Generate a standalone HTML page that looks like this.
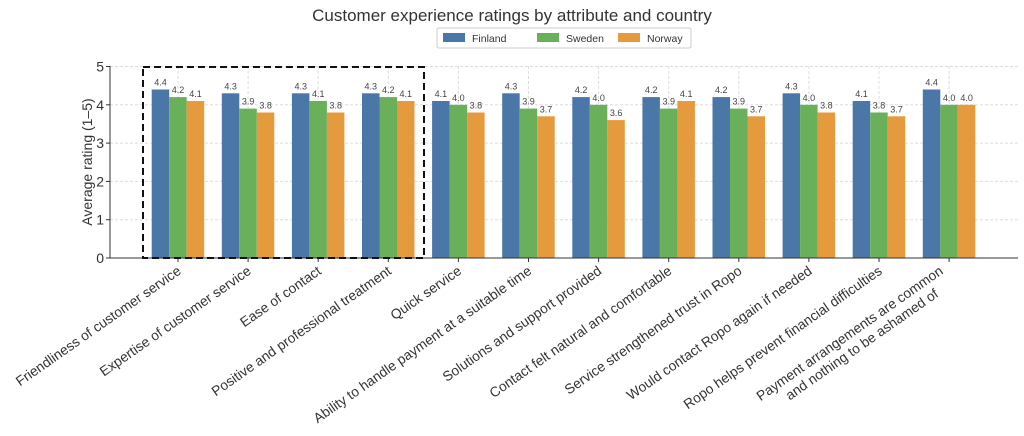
<!DOCTYPE html>
<html><head><meta charset="utf-8"><style>body{margin:0;background:#fff}svg{display:block;font-family:"Liberation Sans","DejaVu Sans",sans-serif}</style></head><body>
<svg width="1024" height="436" viewBox="0 0 1024 436" xmlns="http://www.w3.org/2000/svg">
<text x="512" y="21" text-anchor="middle" font-size="17" fill="#333">Customer experience ratings by attribute and country</text>
<rect x="437" y="28" width="254" height="20" fill="#fff" stroke="#ccc" rx="2"/>
<rect x="443" y="33" width="22" height="9" fill="#4a76a8"/><text x="472" y="42" font-size="10.5" fill="#333">Finland</text>
<rect x="537" y="33" width="22" height="9" fill="#6aaf5a"/><text x="566" y="42" font-size="10.5" fill="#333">Sweden</text>
<rect x="618" y="33" width="22" height="9" fill="#e59a3d"/><text x="647" y="42" font-size="10.5" fill="#333">Norway</text>
<g stroke="#ddd" stroke-dasharray="3,2">
<line x1="110" x2="1018" y1="66.5" y2="66.5"/><line x1="110" x2="1018" y1="104.8" y2="104.8"/><line x1="110" x2="1018" y1="143.1" y2="143.1"/><line x1="110" x2="1018" y1="181.4" y2="181.4"/><line x1="110" x2="1018" y1="219.7" y2="219.7"/>
<line x1="178" x2="178" y1="66" y2="258"/><line x1="248.1" x2="248.1" y1="66" y2="258"/><line x1="318.2" x2="318.2" y1="66" y2="258"/><line x1="388.3" x2="388.3" y1="66" y2="258"/><line x1="458.4" x2="458.4" y1="66" y2="258"/><line x1="528.5" x2="528.5" y1="66" y2="258"/><line x1="598.6" x2="598.6" y1="66" y2="258"/><line x1="668.7" x2="668.7" y1="66" y2="258"/><line x1="738.8" x2="738.8" y1="66" y2="258"/><line x1="808.9" x2="808.9" y1="66" y2="258"/><line x1="879" x2="879" y1="66" y2="258"/><line x1="949.1" x2="949.1" y1="66" y2="258"/>
</g>
<g font-size="14" fill="#333" text-anchor="end">
<text x="104" y="263">0</text><text x="104" y="224.7">1</text><text x="104" y="186.4">2</text><text x="104" y="148.1">3</text><text x="104" y="109.8">4</text><text x="104" y="71.5">5</text>
</g>
<g stroke="#333"><line x1="106" x2="110" y1="258" y2="258"/><line x1="106" x2="110" y1="219.7" y2="219.7"/><line x1="106" x2="110" y1="181.4" y2="181.4"/><line x1="106" x2="110" y1="143.1" y2="143.1"/><line x1="106" x2="110" y1="104.8" y2="104.8"/><line x1="106" x2="110" y1="66.5" y2="66.5"/></g>
<text transform="translate(92,162) rotate(-90)" text-anchor="middle" font-size="14" fill="#333">Average rating (1–5)</text>

<g font-size="9" fill="#444" text-anchor="middle">
<g transform="translate(178,0)"><rect x="-26.3" y="89.5" width="17.5" height="168.5" fill="#4a76a8"/><rect x="-8.8" y="97.1" width="17.5" height="160.9" fill="#6aaf5a"/><rect x="8.7" y="101" width="17.5" height="157" fill="#e59a3d"/><text x="-17.5" y="85.5">4.4</text><text x="0" y="93.1">4.2</text><text x="17.5" y="97">4.1</text></g>
<g transform="translate(248.1,0)"><rect x="-26.3" y="93.3" width="17.5" height="164.7" fill="#4a76a8"/><rect x="-8.8" y="108.6" width="17.5" height="149.4" fill="#6aaf5a"/><rect x="8.7" y="112.5" width="17.5" height="145.5" fill="#e59a3d"/><text x="-17.5" y="89.3">4.3</text><text x="0" y="104.6">3.9</text><text x="17.5" y="108.5">3.8</text></g>
<g transform="translate(318.2,0)"><rect x="-26.3" y="93.3" width="17.5" height="164.7" fill="#4a76a8"/><rect x="-8.8" y="101" width="17.5" height="157" fill="#6aaf5a"/><rect x="8.7" y="112.5" width="17.5" height="145.5" fill="#e59a3d"/><text x="-17.5" y="89.3">4.3</text><text x="0" y="97">4.1</text><text x="17.5" y="108.5">3.8</text></g>
<g transform="translate(388.3,0)"><rect x="-26.3" y="93.3" width="17.5" height="164.7" fill="#4a76a8"/><rect x="-8.8" y="97.1" width="17.5" height="160.9" fill="#6aaf5a"/><rect x="8.7" y="101" width="17.5" height="157" fill="#e59a3d"/><text x="-17.5" y="89.3">4.3</text><text x="0" y="93.1">4.2</text><text x="17.5" y="97">4.1</text></g>
<g transform="translate(458.4,0)"><rect x="-26.3" y="101" width="17.5" height="157" fill="#4a76a8"/><rect x="-8.8" y="104.8" width="17.5" height="153.2" fill="#6aaf5a"/><rect x="8.7" y="112.5" width="17.5" height="145.5" fill="#e59a3d"/><text x="-17.5" y="97">4.1</text><text x="0" y="100.8">4.0</text><text x="17.5" y="108.5">3.8</text></g>
<g transform="translate(528.5,0)"><rect x="-26.3" y="93.3" width="17.5" height="164.7" fill="#4a76a8"/><rect x="-8.8" y="108.6" width="17.5" height="149.4" fill="#6aaf5a"/><rect x="8.7" y="116.3" width="17.5" height="141.7" fill="#e59a3d"/><text x="-17.5" y="89.3">4.3</text><text x="0" y="104.6">3.9</text><text x="17.5" y="112.3">3.7</text></g>
<g transform="translate(598.6,0)"><rect x="-26.3" y="97.1" width="17.5" height="160.9" fill="#4a76a8"/><rect x="-8.8" y="104.8" width="17.5" height="153.2" fill="#6aaf5a"/><rect x="8.7" y="120.1" width="17.5" height="137.9" fill="#e59a3d"/><text x="-17.5" y="93.1">4.2</text><text x="0" y="100.8">4.0</text><text x="17.5" y="116.1">3.6</text></g>
<g transform="translate(668.7,0)"><rect x="-26.3" y="97.1" width="17.5" height="160.9" fill="#4a76a8"/><rect x="-8.8" y="108.6" width="17.5" height="149.4" fill="#6aaf5a"/><rect x="8.7" y="101" width="17.5" height="157" fill="#e59a3d"/><text x="-17.5" y="93.1">4.2</text><text x="0" y="104.6">3.9</text><text x="17.5" y="97">4.1</text></g>
<g transform="translate(738.8,0)"><rect x="-26.3" y="97.1" width="17.5" height="160.9" fill="#4a76a8"/><rect x="-8.8" y="108.6" width="17.5" height="149.4" fill="#6aaf5a"/><rect x="8.7" y="116.3" width="17.5" height="141.7" fill="#e59a3d"/><text x="-17.5" y="93.1">4.2</text><text x="0" y="104.6">3.9</text><text x="17.5" y="112.3">3.7</text></g>
<g transform="translate(808.9,0)"><rect x="-26.3" y="93.3" width="17.5" height="164.7" fill="#4a76a8"/><rect x="-8.8" y="104.8" width="17.5" height="153.2" fill="#6aaf5a"/><rect x="8.7" y="112.5" width="17.5" height="145.5" fill="#e59a3d"/><text x="-17.5" y="89.3">4.3</text><text x="0" y="100.8">4.0</text><text x="17.5" y="108.5">3.8</text></g>
<g transform="translate(879,0)"><rect x="-26.3" y="101" width="17.5" height="157" fill="#4a76a8"/><rect x="-8.8" y="112.5" width="17.5" height="145.5" fill="#6aaf5a"/><rect x="8.7" y="116.3" width="17.5" height="141.7" fill="#e59a3d"/><text x="-17.5" y="97">4.1</text><text x="0" y="108.5">3.8</text><text x="17.5" y="112.3">3.7</text></g>
<g transform="translate(949.1,0)"><rect x="-26.3" y="89.5" width="17.5" height="168.5" fill="#4a76a8"/><rect x="-8.8" y="104.8" width="17.5" height="153.2" fill="#6aaf5a"/><rect x="8.7" y="104.8" width="17.5" height="153.2" fill="#e59a3d"/><text x="-17.5" y="85.5">4.4</text><text x="0" y="100.8">4.0</text><text x="17.5" y="100.8">4.0</text></g>
</g>

<g stroke="#333"><line x1="110" x2="110" y1="66" y2="258"/><line x1="110" x2="1018" y1="258" y2="258"/>
<line x1="178" x2="178" y1="258" y2="262"/><line x1="248.1" x2="248.1" y1="258" y2="262"/><line x1="318.2" x2="318.2" y1="258" y2="262"/><line x1="388.3" x2="388.3" y1="258" y2="262"/><line x1="458.4" x2="458.4" y1="258" y2="262"/><line x1="528.5" x2="528.5" y1="258" y2="262"/><line x1="598.6" x2="598.6" y1="258" y2="262"/><line x1="668.7" x2="668.7" y1="258" y2="262"/><line x1="738.8" x2="738.8" y1="258" y2="262"/><line x1="808.9" x2="808.9" y1="258" y2="262"/><line x1="879" x2="879" y1="258" y2="262"/><line x1="949.1" x2="949.1" y1="258" y2="262"/></g>
<rect x="143" y="67" width="281" height="191" fill="none" stroke="#111" stroke-width="2" stroke-dasharray="7,4"/>

<g font-size="13.8" fill="#333" text-anchor="end">
<text transform="translate(182,273) rotate(-35)">Friendliness of customer service</text>
<text transform="translate(252.1,273) rotate(-35)">Expertise of customer service</text>
<text transform="translate(322.2,273) rotate(-35)">Ease of contact</text>
<text transform="translate(392.3,273) rotate(-35)">Positive and professional treatment</text>
<text transform="translate(462.4,273) rotate(-35)">Quick service</text>
<text transform="translate(532.5,273) rotate(-35)">Ability to handle payment at a suitable time</text>
<text transform="translate(602.6,273) rotate(-35)">Solutions and support provided</text>
<text transform="translate(672.7,273) rotate(-35)">Contact felt natural and comfortable</text>
<text transform="translate(742.8,273) rotate(-35)">Service strengthened trust in Ropo</text>
<text transform="translate(812.9,273) rotate(-35)">Would contact Ropo again if needed</text>
<text transform="translate(883,273) rotate(-35)">Ropo helps prevent financial difficulties</text>
<text transform="translate(944,273) rotate(-35)"><tspan x="0" y="0">Payment arrangements are common</tspan><tspan x="-17" y="16">and nothing to be ashamed of</tspan></text>
</g>
</svg></body></html>
